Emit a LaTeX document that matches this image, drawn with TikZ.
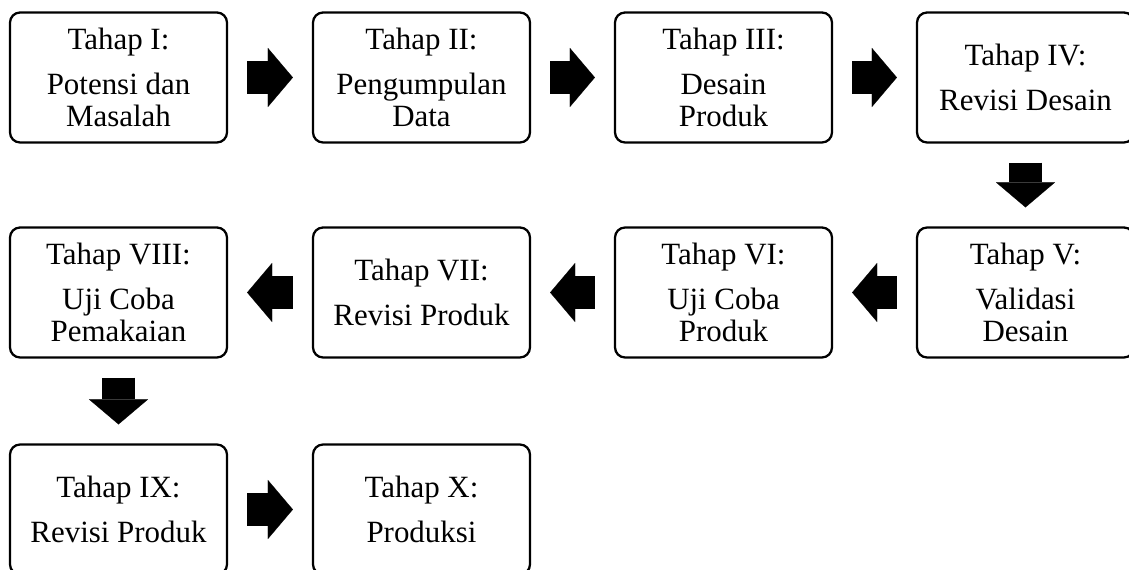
\documentclass[tikz,border=0pt]{standalone}
\usepackage{fontspec}
\setmainfont{Liberation Serif}
\usetikzlibrary{arrows.meta}

\begin{document}
\begin{tikzpicture}[x=0.02cm, y=-0.02cm,
    tahap/.style={draw, line width=1.3pt, rounded corners=0.2cm, align=center,
        minimum width=4.34cm, minimum height=2.6cm, inner sep=0pt,
        font=\fontsize{17.6}{18.4}\selectfont},
    bigarrow/.style={line width=0.66cm, shorten <=0.38cm, shorten >=0.38cm,
        -{Triangle[length=0.5cm, width=1.18cm, line width=0.1pt]}}]
        \useasboundingbox (0,0) rectangle (1129,570);

        % Row 1
        \node[tahap] (t1) at (118.5,77.5) {Tahap I:\\[7pt] Potensi dan\\ Masalah};
        \node[tahap] (t2) at (421.5,77.5) {Tahap II:\\[7pt] Pengumpulan\\ Data};
        \node[tahap] (t3) at (723.5,77.5) {Tahap III:\\[7pt] Desain\\ Produk};
        \node[tahap] (t4) at (1025.5,77.5) {Tahap IV:\\[7pt] Revisi Desain};

        % Row 2
        \node[tahap] (t5) at (1025.5,292.5) {Tahap V:\\[7pt] Validasi\\ Desain};
        \node[tahap] (t6) at (723.5,292.5) {Tahap VI:\\[7pt] Uji Coba\\ Produk};
        \node[tahap] (t7) at (421.5,292.5) {Tahap VII:\\[7pt] Revisi Produk};
        \node[tahap] (t8) at (118.5,292.5) {Tahap VIII:\\[7pt] Uji Coba\\ Pemakaian};

        % Row 3
        \node[tahap] (t9) at (118.5,509.5) {Tahap IX:\\[7pt] Revisi Produk};
        \node[tahap] (t10) at (421.5,509.5) {Tahap X:\\[7pt] Produksi};

        % Arrows
        \draw[bigarrow] (t1.east) -- (t2.west);
        \draw[bigarrow] (t2.east) -- (t3.west);
        \draw[bigarrow] (t3.east) -- (t4.west);
        \draw[bigarrow] (t4.south) -- (t5.north);
        \draw[bigarrow] (t5.west) -- (t6.east);
        \draw[bigarrow] (t6.west) -- (t7.east);
        \draw[bigarrow] (t7.west) -- (t8.east);
        \draw[bigarrow] (t8.south) -- (t9.north);
        \draw[bigarrow] (t9.east) -- (t10.west);

    \end{tikzpicture}
\end{document}
